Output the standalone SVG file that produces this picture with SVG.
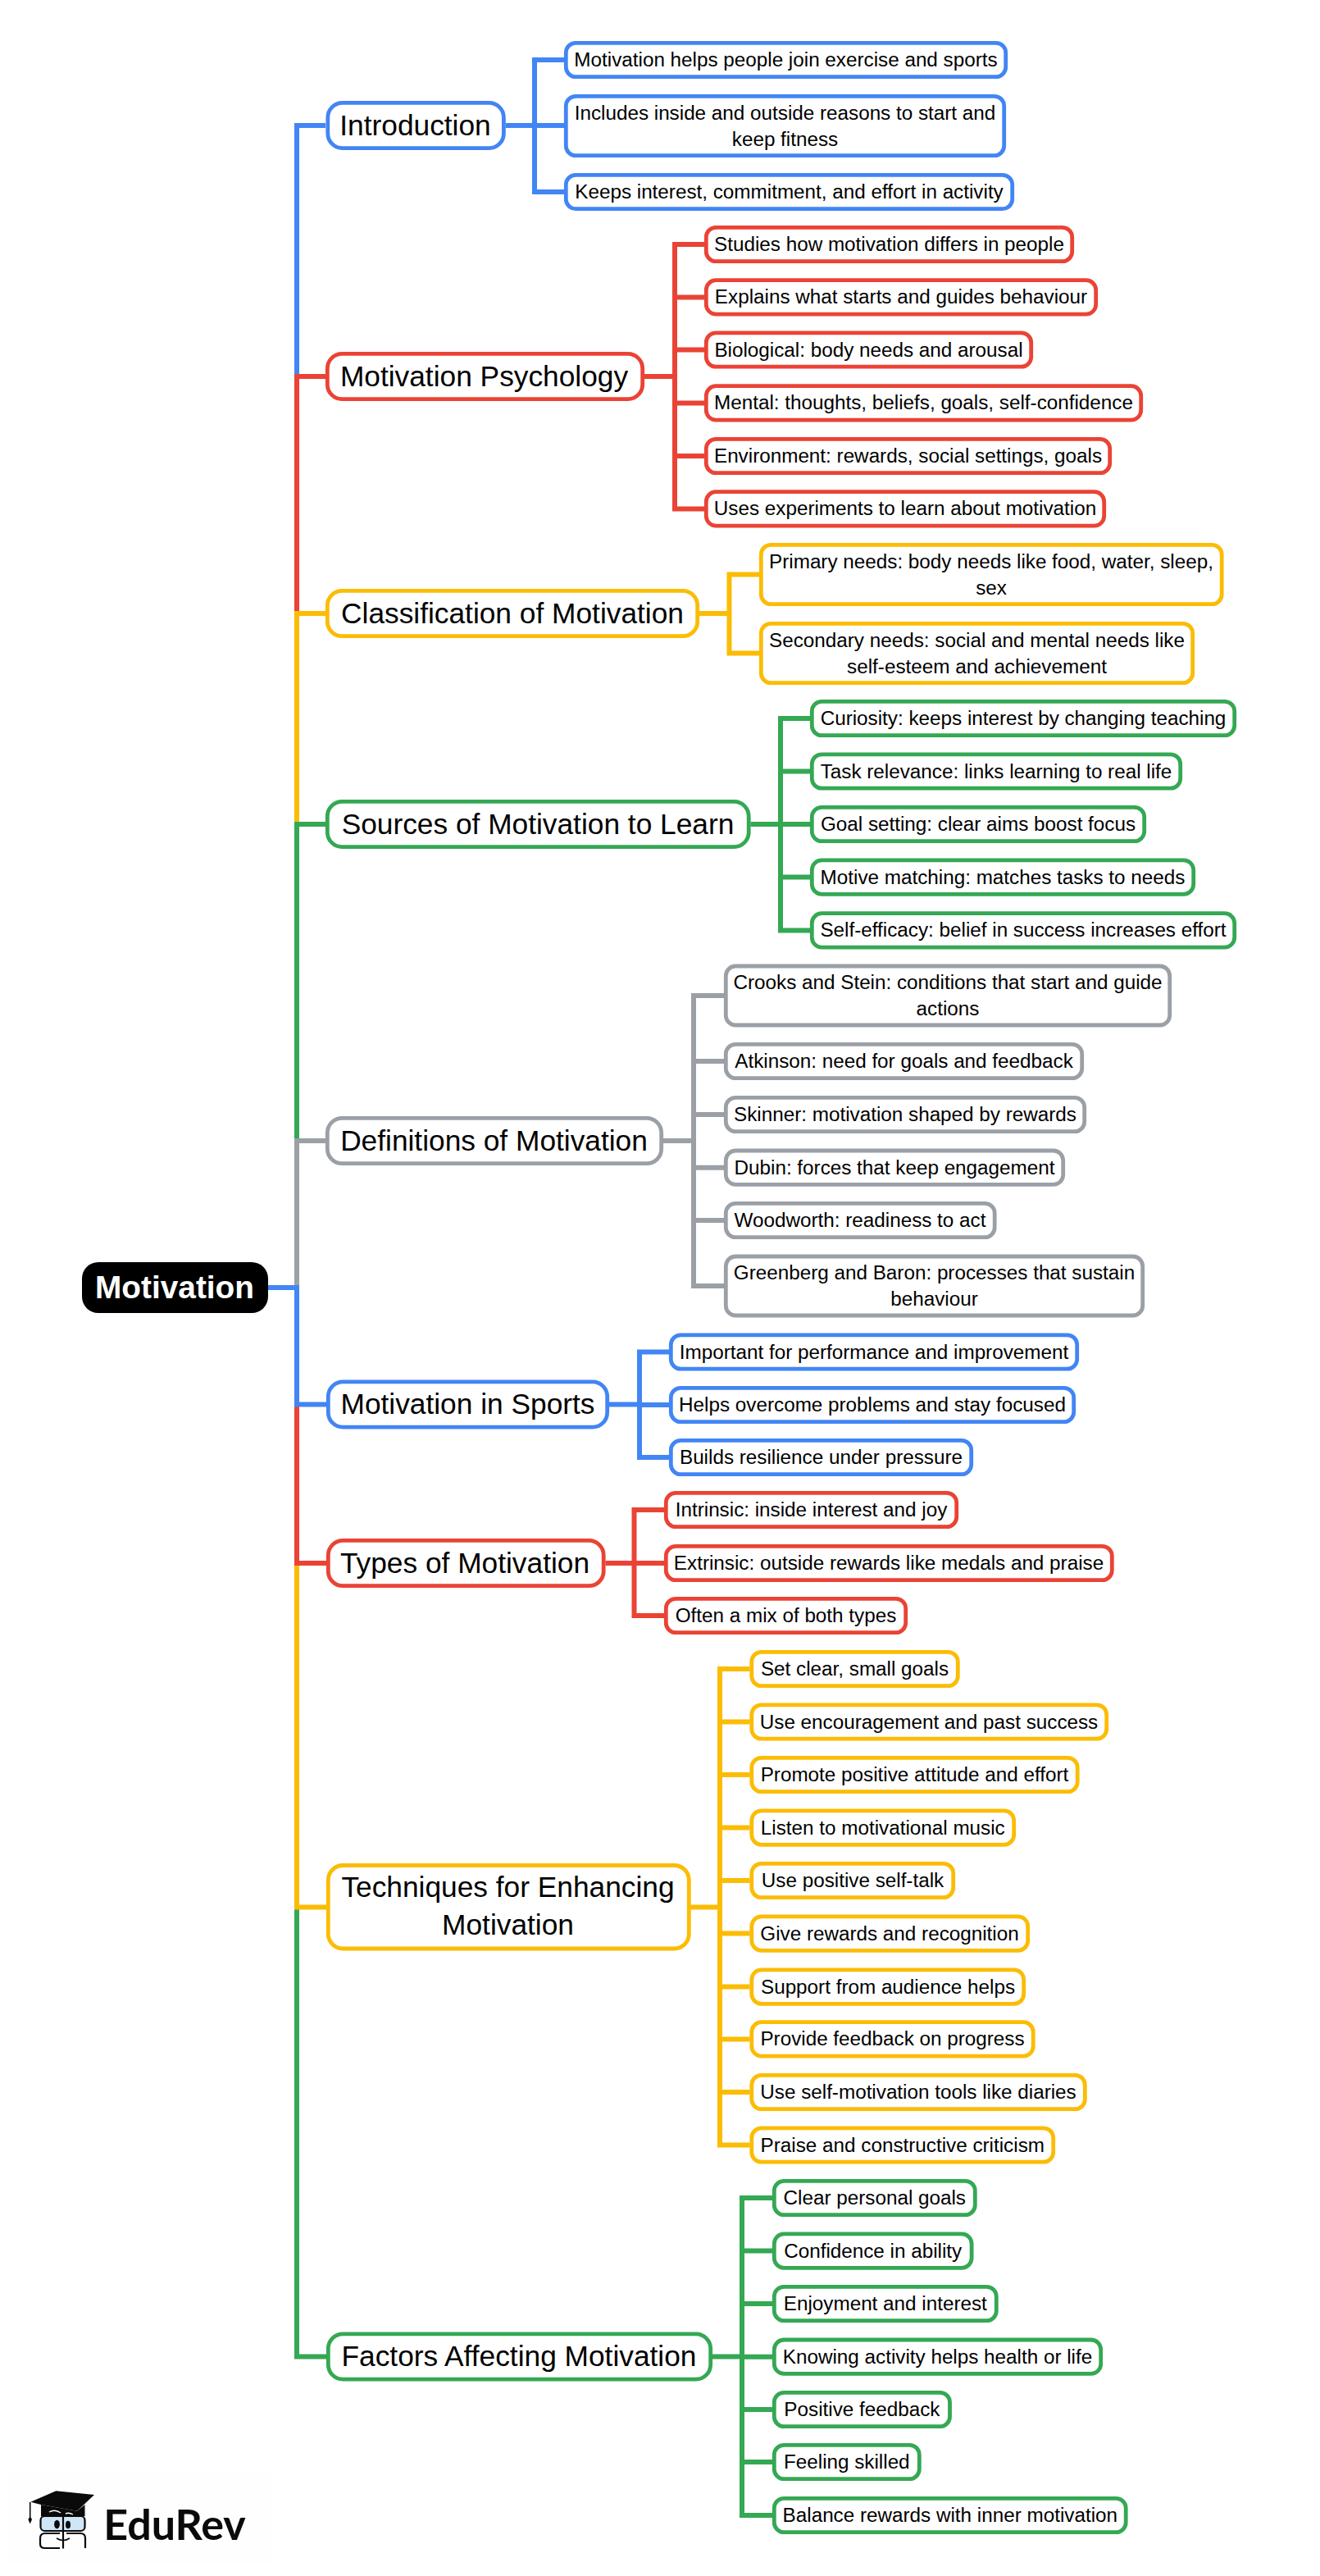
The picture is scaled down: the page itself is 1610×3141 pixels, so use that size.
<svg xmlns="http://www.w3.org/2000/svg" width="1610" height="3141" viewBox="0 0 1610 3141">
<style>
text{font-family:"Liberation Sans",Arial,sans-serif;text-anchor:middle;fill:#000}
.c{font-size:24.25px}.b{font-size:35.3px}
.r{font-size:38.8px;font-weight:700;fill:#fff}
rect{fill:#fff;stroke-width:4.8}
.s{rx:12px;ry:12px}.m{rx:18px;ry:18px}
.blue rect{stroke:#4285f4}.red rect{stroke:#ea4335}.yel rect{stroke:#fbbc04}.grn rect{stroke:#34a853}.gry rect{stroke:#9aa0a6}
#connectors path{fill:none;stroke-width:6}
path.blue{stroke:#4285f4}path.red{stroke:#ea4335}path.yel{stroke:#fbbc04}path.grn{stroke:#34a853}path.gry{stroke:#9aa0a6}
</style>
<rect width="1610" height="3141" style="fill:#fff;stroke:none"/>
<g id="connectors">
<path class="blue" d="M327 1570H362V153H397"/>
<path class="red" d="M327 1570H362V459H397"/>
<path class="yel" d="M327 1570H362V748H397"/>
<path class="grn" d="M327 1570H362V1005H397"/>
<path class="gry" d="M327 1570H362V1391H397"/>
<path class="grn" d="M327 1570H362V2873.5H398"/>
<path class="yel" d="M327 1570H362V2325.5H398"/>
<path class="red" d="M327 1570H362V1906H398"/>
<path class="blue" d="M327 1570H362V1712.5H398"/>
<path class="blue" d="M617 153H652V73H688M652 153H688M652 153V234H688"/>
<path class="red" d="M786 459H823V298H859M823 362.4H859M823 426.5H859M823 491.4H859M823 556H859M823 459V620.4H859"/>
<path class="yel" d="M853 748H889.5V700.5H926M889.5 748V796.5H926"/>
<path class="grn" d="M915.5 1005H952V876H988M952 940.5H988M952 1005H988M952 1069.6H988M952 1005V1134.4H988"/>
<path class="gry" d="M809 1391H846V1214H883M846 1294H883M846 1359H883M846 1423.7H883M846 1488H883M846 1391V1568H883"/>
<path class="blue" d="M743 1712.5H780V1648.5H816M780 1713H816M780 1712.5V1777H816"/>
<path class="red" d="M738.5 1906H773.5V1841H810M773.5 1906H810M773.5 1906V1970H810"/>
<path class="yel" d="M842 2325.5H878V2035H914.5M878 2099.5H914.5M878 2164H914.5M878 2228.6H914.5M878 2293H914.5M878 2357.6H914.5M878 2422.6H914.5M878 2486.4H914.5M878 2551H914.5M878 2325.5V2615.5H914.5"/>
<path class="grn" d="M869 2873.5H905V2680H942M905 2744.6H942M905 2809H942M905 2873.7H942M905 2938H942M905 3002H942M905 2873.5V3067H942"/>
</g>
<g id="root"><rect x="100" y="1539" width="227" height="62" rx="20" ry="20" style="fill:#000;stroke:none"/><text class="r" x="213" y="1582.7">Motivation</text></g>

<g id="introduction" class="blue"><rect class="m" x="399.8" y="125.3" width="214.6" height="55.4"/><text class="b" x="506.5" y="164.5">Introduction</text></g>
<g id="intro-1" class="blue"><rect class="s" x="690.3" y="52.3" width="536.4" height="41.4"/><text class="c" x="958.5" y="81">Motivation helps people join exercise and sports</text></g>
<g id="intro-2" class="blue"><rect class="s" x="690.3" y="117.3" width="534.4" height="72.4"/><text class="c" x="957.5" y="145.5">Includes inside and outside reasons to start and</text><text class="c" x="957.5" y="177.5">keep fitness</text></g>
<g id="intro-3" class="blue"><rect class="s" x="690.3" y="213.3" width="544.4" height="41.4"/><text class="c" x="962.5" y="242">Keeps interest, commitment, and effort in activity</text></g>

<g id="psychology" class="red"><rect class="m" x="399.3" y="431.3" width="384.4" height="55.4"/><text class="b" x="590.5" y="470.5">Motivation Psychology</text></g>
<g id="psy-1" class="red"><rect class="s" x="861.3" y="277.3" width="446.4" height="41.4"/><text class="c" x="1084.5" y="306">Studies how motivation differs in people</text></g>
<g id="psy-2" class="red"><rect class="s" x="861.3" y="341.7" width="475.4" height="41.4"/><text class="c" x="1099" y="370.4">Explains what starts and guides behaviour</text></g>
<g id="psy-3" class="red"><rect class="s" x="861.3" y="405.8" width="396.4" height="41.4"/><text class="c" x="1059.5" y="434.5">Biological: body needs and arousal</text></g>
<g id="psy-4" class="red"><rect class="s" x="861.3" y="470.7" width="530.4" height="41.4"/><text class="c" x="1126.5" y="499.4">Mental: thoughts, beliefs, goals, self-confidence</text></g>
<g id="psy-5" class="red"><rect class="s" x="861.3" y="535.3" width="492.4" height="41.4"/><text class="c" x="1107.5" y="564">Environment: rewards, social settings, goals</text></g>
<g id="psy-6" class="red"><rect class="s" x="861.3" y="599.7" width="485.4" height="41.4"/><text class="c" x="1104" y="628.4">Uses experiments to learn about motivation</text></g>

<g id="classification" class="yel"><rect class="m" x="399.3" y="720.3" width="451.4" height="55.4"/><text class="b" x="625" y="759.5">Classification of Motivation</text></g>
<g id="cla-1" class="yel"><rect class="s" x="928.3" y="664.3" width="561.9" height="72.4"/><text class="c" x="1209" y="692.5">Primary needs: body needs like food, water, sleep,</text><text class="c" x="1209" y="724.5">sex</text></g>
<g id="cla-2" class="yel"><rect class="s" x="928.3" y="760.3" width="526.4" height="72.4"/><text class="c" x="1191.5" y="788.5">Secondary needs: social and mental needs like</text><text class="c" x="1191.5" y="820.5">self-esteem and achievement</text></g>

<g id="sources" class="grn"><rect class="m" x="399.3" y="977.3" width="513.9" height="55.4"/><text class="b" x="656" y="1016.5">Sources of Motivation to Learn</text></g>
<g id="src-1" class="grn"><rect class="s" x="990.3" y="855.3" width="515.4" height="41.4"/><text class="c" x="1248" y="884">Curiosity: keeps interest by changing teaching</text></g>
<g id="src-2" class="grn"><rect class="s" x="990.3" y="919.8" width="449.4" height="41.4"/><text class="c" x="1215" y="948.5">Task relevance: links learning to real life</text></g>
<g id="src-3" class="grn"><rect class="s" x="990.3" y="984.3" width="405.4" height="41.4"/><text class="c" x="1193" y="1013">Goal setting: clear aims boost focus</text></g>
<g id="src-4" class="grn"><rect class="s" x="990.3" y="1048.9" width="465.4" height="41.4"/><text class="c" x="1223" y="1077.6">Motive matching: matches tasks to needs</text></g>
<g id="src-5" class="grn"><rect class="s" x="990.3" y="1113.7" width="515.4" height="41.4"/><text class="c" x="1248" y="1142.4">Self-efficacy: belief in success increases effort</text></g>

<g id="definitions" class="gry"><rect class="m" x="399.3" y="1363.3" width="407.4" height="55.4"/><text class="b" x="602.5" y="1402.5">Definitions of Motivation</text></g>
<g id="def-1" class="gry"><rect class="s" x="885.3" y="1178" width="541.4" height="72"/><text class="c" x="1156" y="1206">Crooks and Stein: conditions that start and guide</text><text class="c" x="1156" y="1238">actions</text></g>
<g id="def-2" class="gry"><rect class="s" x="885.3" y="1273.3" width="434.4" height="41.4"/><text class="c" x="1102.5" y="1302">Atkinson: need for goals and feedback</text></g>
<g id="def-3" class="gry"><rect class="s" x="885.3" y="1338.3" width="437.4" height="41.4"/><text class="c" x="1104" y="1367">Skinner: motivation shaped by rewards</text></g>
<g id="def-4" class="gry"><rect class="s" x="885.3" y="1403" width="411.4" height="41.4"/><text class="c" x="1091" y="1431.7">Dubin: forces that keep engagement</text></g>
<g id="def-5" class="gry"><rect class="s" x="885.3" y="1467.3" width="327.9" height="41.4"/><text class="c" x="1049" y="1496">Woodworth: readiness to act</text></g>
<g id="def-6" class="gry"><rect class="s" x="885.3" y="1532" width="508.4" height="72"/><text class="c" x="1139.5" y="1560">Greenberg and Baron: processes that sustain</text><text class="c" x="1139.5" y="1592">behaviour</text></g>

<g id="sports" class="blue"><rect class="m" x="400.3" y="1684.8" width="340.4" height="55.4"/><text class="b" x="570.5" y="1724">Motivation in Sports</text></g>
<g id="spo-1" class="blue"><rect class="s" x="818.3" y="1627.8" width="495.4" height="41.4"/><text class="c" x="1066" y="1656.5">Important for performance and improvement</text></g>
<g id="spo-2" class="blue"><rect class="s" x="818.3" y="1692.3" width="491.4" height="41.4"/><text class="c" x="1064" y="1721">Helps overcome problems and stay focused</text></g>
<g id="spo-3" class="blue"><rect class="s" x="818.3" y="1756.3" width="366.4" height="41.4"/><text class="c" x="1001.5" y="1785">Builds resilience under pressure</text></g>

<g id="types" class="red"><rect class="m" x="400.3" y="1878.3" width="335.9" height="55.4"/><text class="b" x="567" y="1917.5">Types of Motivation</text></g>
<g id="typ-1" class="red"><rect class="s" x="812.3" y="1820.3" width="354.4" height="41.4"/><text class="c" x="989.5" y="1849">Intrinsic: inside interest and joy</text></g>
<g id="typ-2" class="red"><rect class="s" x="812.3" y="1885.3" width="544" height="41.4"/><text class="c" x="1084" y="1914">Extrinsic: outside rewards like medals and praise</text></g>
<g id="typ-3" class="red"><rect class="s" x="812.3" y="1949.3" width="292.4" height="41.4"/><text class="c" x="958.5" y="1978">Often a mix of both types</text></g>

<g id="techniques" class="yel"><rect class="m" x="400.3" y="2274.5" width="440" height="101.5"/><text class="b" x="619.5" y="2313">Techniques for Enhancing</text><text class="b" x="619.5" y="2359">Motivation</text></g>
<g id="tec-1" class="yel"><rect class="s" x="916.8" y="2014.3" width="251.5" height="41.4"/><text class="c" x="1042.5" y="2043">Set clear, small goals</text></g>
<g id="tec-2" class="yel"><rect class="s" x="916.8" y="2078.8" width="432.9" height="41.4"/><text class="c" x="1133" y="2107.5">Use encouragement and past success</text></g>
<g id="tec-3" class="yel"><rect class="s" x="916.8" y="2143.3" width="397.4" height="41.4"/><text class="c" x="1115.5" y="2172">Promote positive attitude and effort</text></g>
<g id="tec-4" class="yel"><rect class="s" x="916.8" y="2207.9" width="319.9" height="41.4"/><text class="c" x="1076.8" y="2236.6">Listen to motivational music</text></g>
<g id="tec-5" class="yel"><rect class="s" x="916.8" y="2272.3" width="245.9" height="41.4"/><text class="c" x="1040" y="2301">Use positive self-talk</text></g>
<g id="tec-6" class="yel"><rect class="s" x="916.8" y="2336.9" width="336.9" height="41.4"/><text class="c" x="1085" y="2365.6">Give rewards and recognition</text></g>
<g id="tec-7" class="yel"><rect class="s" x="916.8" y="2401.9" width="331.9" height="41.4"/><text class="c" x="1083" y="2430.6">Support from audience helps</text></g>
<g id="tec-8" class="yel"><rect class="s" x="916.8" y="2465.7" width="343.4" height="41.4"/><text class="c" x="1088.5" y="2494.4">Provide feedback on progress</text></g>
<g id="tec-9" class="yel"><rect class="s" x="916.8" y="2530.3" width="406.5" height="41.4"/><text class="c" x="1120" y="2559">Use self-motivation tools like diaries</text></g>
<g id="tec-10" class="yel"><rect class="s" x="916.8" y="2594.8" width="367.9" height="41.4"/><text class="c" x="1100.8" y="2623.5">Praise and constructive criticism</text></g>

<g id="factors" class="grn"><rect class="m" x="400.3" y="2845.8" width="466.4" height="55.4"/><text class="b" x="633" y="2885">Factors Affecting Motivation</text></g>
<g id="fac-1" class="grn"><rect class="s" x="944.3" y="2659.3" width="245" height="41.4"/><text class="c" x="1066.8" y="2688">Clear personal goals</text></g>
<g id="fac-2" class="grn"><rect class="s" x="944.3" y="2723.9" width="240.8" height="41.4"/><text class="c" x="1064.7" y="2752.6">Confidence in ability</text></g>
<g id="fac-3" class="grn"><rect class="s" x="944.3" y="2788.3" width="271" height="41.4"/><text class="c" x="1079.8" y="2817">Enjoyment and interest</text></g>
<g id="fac-4" class="grn"><rect class="s" x="944.3" y="2853" width="398.4" height="41.4"/><text class="c" x="1143.5" y="2881.7">Knowing activity helps health or life</text></g>
<g id="fac-5" class="grn"><rect class="s" x="944.3" y="2917.3" width="214.2" height="41.4"/><text class="c" x="1051.4" y="2946">Positive feedback</text></g>
<g id="fac-6" class="grn"><rect class="s" x="944.3" y="2981.3" width="177" height="41.4"/><text class="c" x="1032.8" y="3010">Feeling skilled</text></g>
<g id="fac-7" class="grn"><rect class="s" x="944.3" y="3046.3" width="428.9" height="41.4"/><text class="c" x="1158.8" y="3075">Balance rewards with inner motivation</text></g>

<g id="logo">
<rect x="10" y="3015" width="320" height="111" style="fill:#fefefe;stroke:none"/>
<polygon points="37.3,3050.7 68.3,3037.3 115,3042 94,3061.7 50,3054" fill="#0a0a0a"/>
<polygon points="50,3054 94,3061.7 103.5,3054 103.5,3068 50,3068" fill="#0a0a0a"/>
<path d="M36.7 3051V3069" fill="none" stroke="#0a0a0a" stroke-width="1.6"/>
<path d="M36.7 3068l2.3 4-2.3 5.5-2.3-5.5z" fill="#0a0a0a"/>
<path d="M60 3063q7-4 14 1M80 3065q4-2 9 1" fill="none" stroke="#fff" stroke-width="1.4"/>
<rect x="49.5" y="3068" width="54" height="18" rx="5" ry="5" style="fill:#cfe6f7;stroke:#0a0a0a;stroke-width:2.2"/>
<path d="M77 3066V3107.5" fill="none" stroke="#0a0a0a" stroke-width="2.2"/>
<path d="M73 3089H55q-6 0-6 6v7q0 5 6 5H73M81 3089H98q6 0 6 6v12" fill="none" stroke="#0a0a0a" stroke-width="2.2"/>
<path d="M69 3095q8 5 16 0" fill="none" stroke="#0a0a0a" stroke-width="1.6"/>
<ellipse cx="69.5" cy="3078" rx="3.4" ry="5.3" fill="#0a0a0a"/>
<ellipse cx="83" cy="3078.5" rx="3" ry="4.7" fill="#0a0a0a"/>
<text x="213" y="3097" style="font-family:Lato,'Open Sans',sans-serif;font-weight:700;font-size:52px;fill:#0a0a0a">EduRev</text>
</g>
</svg>
